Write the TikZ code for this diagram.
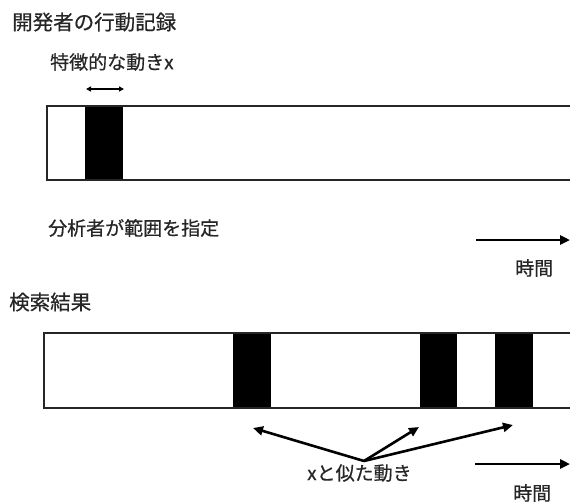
\documentclass[tikz,border=0pt]{standalone}
\usepackage{fontspec}
\setmainfont[FakeBold=0.6]{Noto Sans CJK JP}
\usetikzlibrary{arrows.meta}
\begin{document}
\begin{tikzpicture}[x=1pt,y=-1pt,
  lbl/.style={inner sep=0pt,anchor=west,text=black!85,font=\fontsize{19}{19}\selectfont},
  ttl/.style={inner sep=0pt,anchor=west,text=black!85,font=\fontsize{20.5}{20.5}\selectfont},
  barline/.style={line width=1.8pt,black!85},
  bigarrow/.style={line width=2.6pt,-{Triangle[length=10pt,width=9pt]}},
  smallarrow/.style={line width=1.4pt,{Triangle[length=5pt,width=5pt]}-{Triangle[length=5pt,width=5pt]}}]
\useasboundingbox (0,0) rectangle (570,501);
% titles and labels
\node[ttl] (t1) at (12,22) {開発者の行動記録};
\node[lbl] (fx) at (50,62) {特徴的な動きx};
\node[lbl] (range) at (48,228) {分析者が範囲を指定};
\node[lbl] (time1) at (515,268) {時間};
\node[ttl] (t2) at (9,302) {検索結果};
\node[lbl] (sim) at (307,473) {xと似た動き};
\node[lbl] (time2) at (513,493) {時間};
% top bar
\fill[black] (85,106) rectangle (123,180);
\draw[barline] (571,106) -- (47,106) -- (47,180) -- (571,180);
\coordinate (dl) at (86,89);
\coordinate (dr) at (124,89);
\draw[smallarrow] (dl) -- (dr);
% time arrow 1
\coordinate (a1s) at (476,240);
\coordinate (a1e) at (570,240);
\draw[bigarrow] (a1s) -- (a1e);
% bottom bar
\fill[black] (233,333) rectangle (271,408);
\fill[black] (420,333) rectangle (457,408);
\fill[black] (495,333) rectangle (533,408);
\draw[barline] (571,333) -- (44,333) -- (44,408) -- (571,408);
% similarity arrows
\coordinate (src) at (364,461);
\coordinate (p1) at (253,428);
\coordinate (p2) at (419,427);
\coordinate (p3) at (513,425);
\draw[bigarrow] (src) -- (p1);
\draw[bigarrow] (src) -- (p2);
\draw[bigarrow] (src) -- (p3);
% time arrow 2
\coordinate (a2s) at (475,464);
\coordinate (a2e) at (570,464);
\draw[bigarrow] (a2s) -- (a2e);
\end{tikzpicture}
\end{document}
